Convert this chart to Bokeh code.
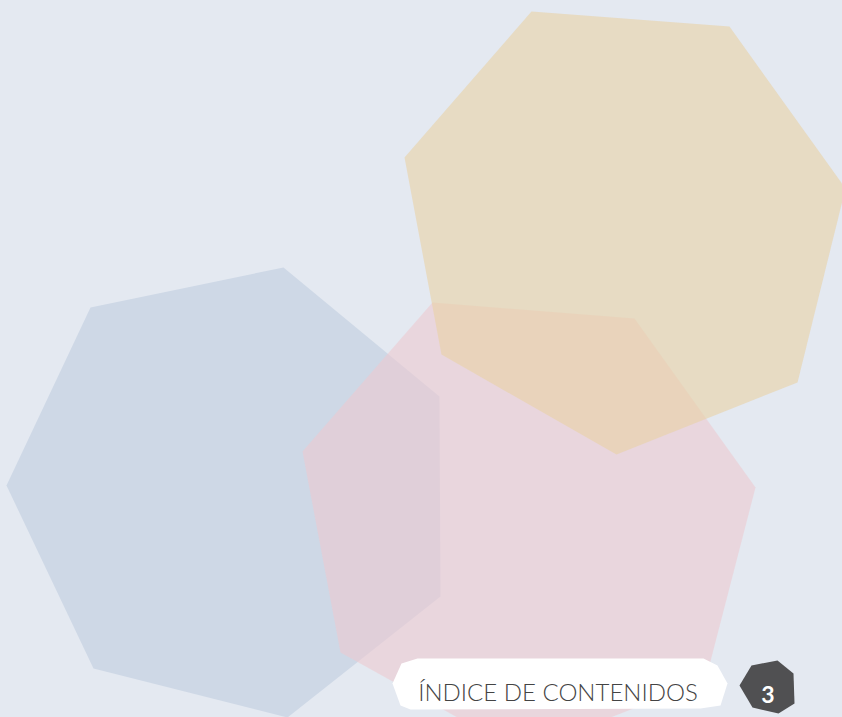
from bokeh.plotting import figure
from bokeh.embed import file_html
from bokeh.resources import INLINE
from bokeh.core.properties import value
from bokeh.models import Range1d

# ---- data (page pixel coordinates) ----
blue_x = [283, 439, 440, 287, 93, 6, 90]
blue_y = [267, 396, 596, 717, 668, 485, 307]

pink_x = [432, 634, 755, 705, 520, 340, 302]
pink_y = [302, 318, 487, 680, 752, 652, 451]

tan_x = [531, 729, 845, 797, 616, 441, 404]
tan_y = [11, 26, 188, 382, 454, 354, 157]

label_x = [392, 401, 417, 703, 717, 727, 720, 700, 410, 400]
label_y = [683, 663, 658, 658, 665, 683, 705, 708, 709, 705]

badge_x = [777, 793, 794, 778, 752, 739, 751]
badge_y = [660, 673, 703, 713, 707, 685, 665]

label_text = ["ÍNDICE DE CONTENIDOS"]
label_tx = [557.5]
label_ty = [691]

page_text = ["3"]
page_tx = [767.5]
page_ty = [694]

W, H = 842, 717
BG = "#E4E9F1"

p = figure(width=W, height=H, output_backend="svg", toolbar_location=None,
           x_range=Range1d(0, W), y_range=Range1d(H, 0),
           min_border=0, min_border_left=0, min_border_right=0,
           min_border_top=0, min_border_bottom=0)
p.axis.visible = False
p.grid.visible = False
p.outline_line_color = None
p.background_fill_color = BG
p.border_fill_color = BG

p.patch(blue_x, blue_y, fill_color="#CED8E6", fill_alpha=1.0, line_color=None)
p.patch(pink_x, pink_y, fill_color="#ECC9D0", fill_alpha=0.6, line_color=None)
p.patch(tan_x, tan_y, fill_color="#E8D2A6", fill_alpha=0.62, line_color=None)

p.patch(label_x, label_y, fill_color="#FFFFFF", line_color=None)
p.patch(badge_x, badge_y, fill_color="#505052", line_color=None)

p.text(x=label_tx, y=label_ty, text=label_text, text_font=value("Lato Light"),
       text_font_size="24px", text_color="#444444", text_align="center",
       text_baseline="alphabetic")
p.text(x=page_tx, y=page_ty, text=page_text, text_font=value("Lato"),
       text_font_size="23px", text_font_style="bold", text_color="#FFFFFF",
       text_align="center", text_baseline="alphabetic")

html = file_html(p, INLINE)
html = html.replace("<head>", "<head><style>html,body{margin:0;padding:0;overflow:hidden;background:%s}</style>" % BG, 1)
open("out.html", "w").write(html)
